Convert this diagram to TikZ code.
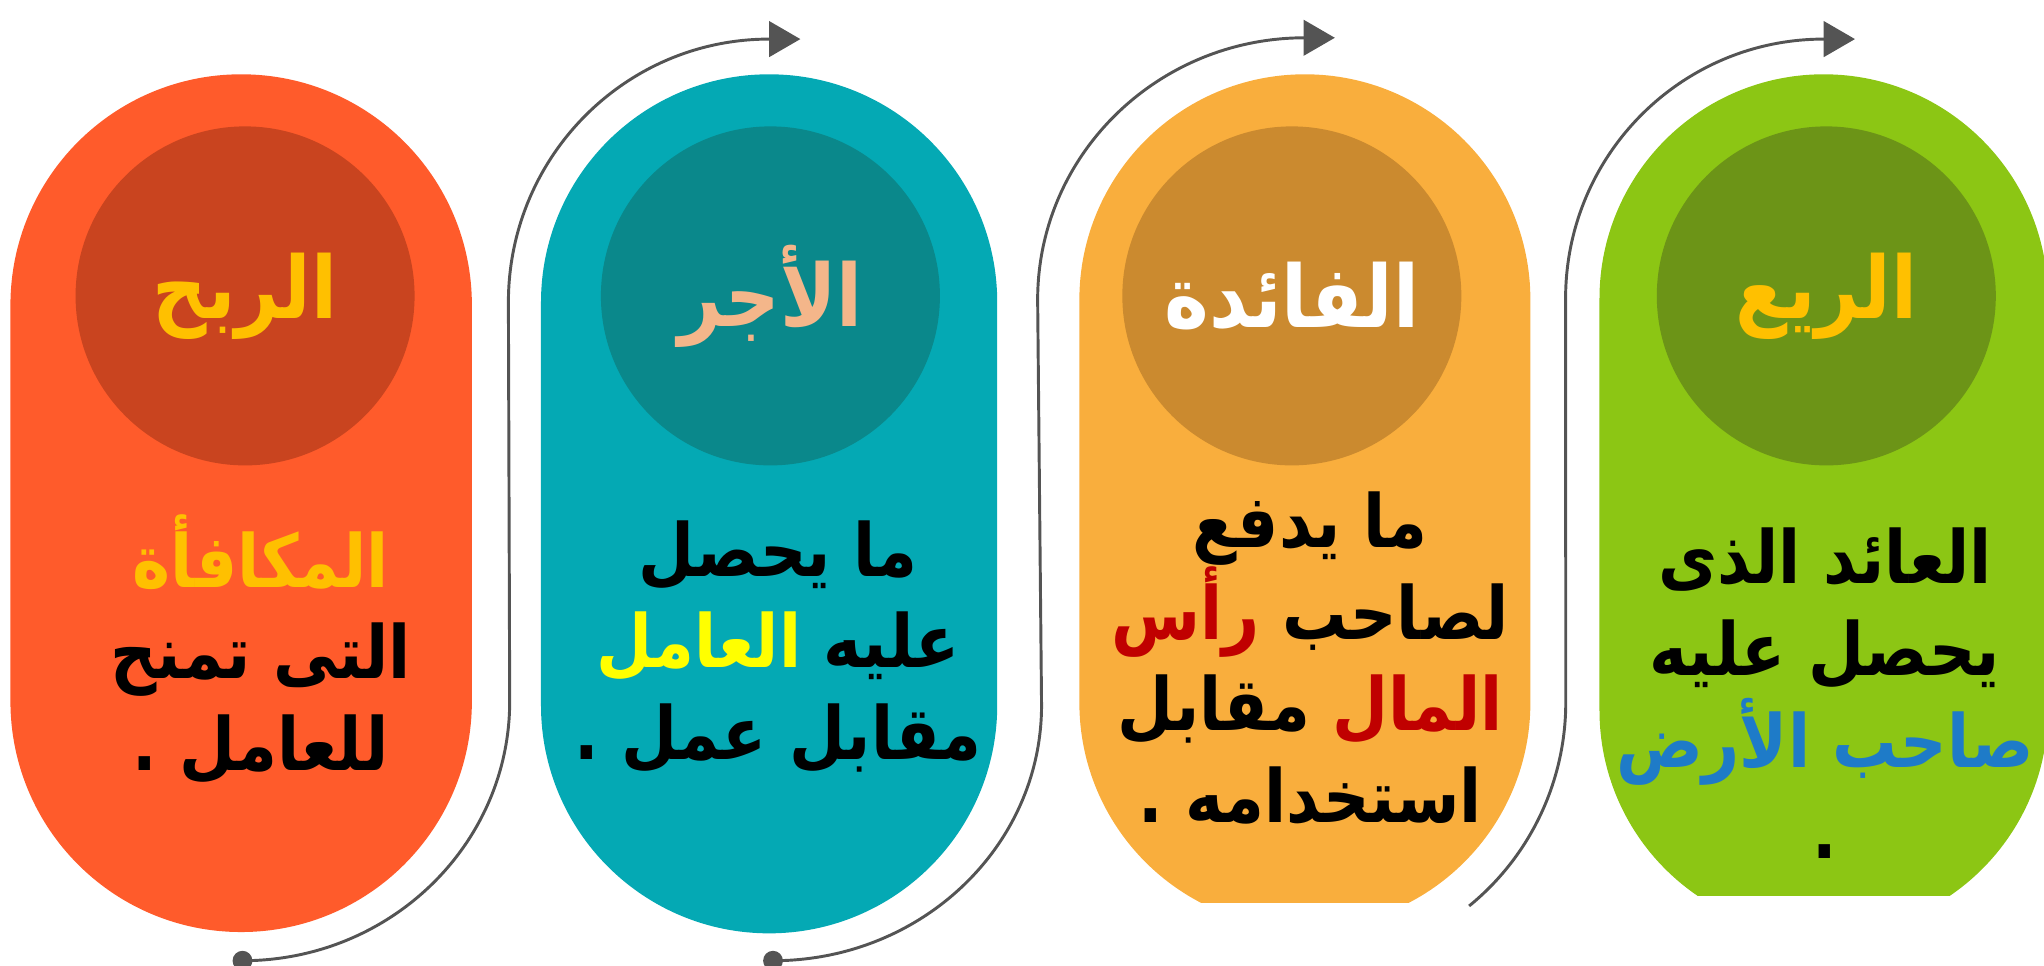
\documentclass[tikz,border=0pt]{standalone}
\usepackage{fontspec}
\newfontfamily\arabicfont[Script=Arabic, FakeStretch=0.88]{DejaVu Sans}
\TeXXeTstate=1
\usetikzlibrary{arrows.meta}
\newcommand{\rtlword}[1]{\beginR #1\endR}

\definecolor{rbhpill}{HTML}{FF5B2B}
\definecolor{rbhdark}{HTML}{C9441F}
\definecolor{ajrpill}{HTML}{04A9B4}
\definecolor{ajrdark}{HTML}{0A888B}
\definecolor{fadpill}{HTML}{F9AE3D}
\definecolor{faddark}{HTML}{CB8A2F}
\definecolor{reapill}{HTML}{8CC614}
\definecolor{readark}{HTML}{6C9417}
\definecolor{gold}{HTML}{FFC000}
\definecolor{peach}{HTML}{F4B68A}
\definecolor{workyellow}{HTML}{FFFF00}
\definecolor{capred}{HTML}{C00000}
\definecolor{landblue}{HTML}{1E7BC8}
\definecolor{flowgray}{HTML}{545454}

\tikzset{
  headcircle/.style={circle, minimum size=6.5cm, inner sep=0pt,
    font=\arabicfont\bfseries\fontsize{47}{47}\selectfont},
  bodytext/.style={align=center, inner sep=0pt,
    font=\arabicfont\bfseries\fontsize{40}{50}\selectfont},
  flow/.style={draw=flowgray, line width=1.6pt,
    -{Triangle[length=0.6cm,width=0.68cm]}},
  flowdot/.style={circle, fill=flowgray, minimum size=0.38cm, inner sep=0pt},
}

\begin{document}
\begin{tikzpicture}[x=0.025cm, y=0.025cm]
    \useasboundingbox (0,0) rectangle (1568,741);

    \fill[rbhpill] (8,507) arc[start angle=180, end angle=0, radius=177] -- (362,203)
        arc[start angle=0, end angle=-180, radius=177] -- cycle;
    \fill[ajrpill] (415,509) arc[start angle=180, end angle=0, radius=175] -- (765,200)
        arc[start angle=0, end angle=-180, radius=175] -- cycle;
    \begin{scope}
        \clip (0,49) rectangle (1568,741);
        \fill[fadpill] (828,511) arc[start angle=180, end angle=0, radius=173] -- (1174,202)
            arc[start angle=0, end angle=-180, radius=173] -- cycle;
    \end{scope}
    \begin{scope}
        \clip (0,54) rectangle (1600,741);
        \fill[reapill] (1227,512) arc[start angle=180, end angle=0, radius=172] -- (1571,196)
            arc[start angle=0, end angle=-180, radius=172] -- cycle;
    \end{scope}

    \node[headcircle, fill=rbhdark, text=gold] (rbh) at (188,514) {\rtlword{الربح}};
    \node[headcircle, fill=ajrdark, text=peach] (ajr) at (591,514) {\rtlword{الأجر}};
    \node[headcircle, fill=faddark, text=white] (fad) at (991,514) {\rtlword{الفائدة}};
    \node[headcircle, fill=readark, text=gold] (rea) at (1401,514) {\rtlword{الريع}};

    \node[bodytext] (rbhtxt) at (200,243) {{\color{gold}\rtlword{المكافأة}}\\
        \rtlword{التى تمنح}\\ \rtlword{للعامل .}};
    \node[bodytext] (ajrtxt) at (597,245) {\rtlword{ما يحصل}\\
        {\color{workyellow}\rtlword{العامل}} \rtlword{عليه}\\ \rtlword{مقابل عمل .}};
    \node[bodytext] (fadtxt) at (1005,236) {\rtlword{ما يدفع}\\
        {\color{capred}\rtlword{رأس}} \rtlword{لصاحب}\\
        \rtlword{مقابل} {\color{capred}\rtlword{المال}}\\ \rtlword{استخدامه .}};
    \node[bodytext] (reatxt) at (1400,209) {\rtlword{العائد الذى}\\
        \rtlword{يحصل عليه}\\ {\color{landblue}\rtlword{صاحب الأرض}}\\ .};

    \coordinate (s1) at (186,4);
    \coordinate (s2) at (593,4);
    \coordinate (s3) at (1127,46);
    \coordinate (t1) at (614,711);
    \coordinate (t2) at (1024,712);
    \coordinate (t3) at (1423,711);

    \draw[flow] (s1) arc[start angle=-90, end angle=0, x radius=205, y radius=199] -- (390,509)
        arc[start angle=180, end angle=90, x radius=200, y radius=202] -- (t1);
    \draw[flow] (s2) arc[start angle=-90, end angle=0, x radius=206, y radius=196] -- (796,511)
        arc[start angle=180, end angle=90, x radius=205, y radius=201] -- (t2);
    \draw[flow] (s3) arc[start angle=-51, end angle=0, x radius=200, y radius=201] -- (1201,512)
        arc[start angle=180, end angle=90, x radius=198, y radius=199] -- (t3);

    \node[flowdot] (d1) at (s1) {};
    \node[flowdot] (d2) at (s2) {};
\end{tikzpicture}
\end{document}
